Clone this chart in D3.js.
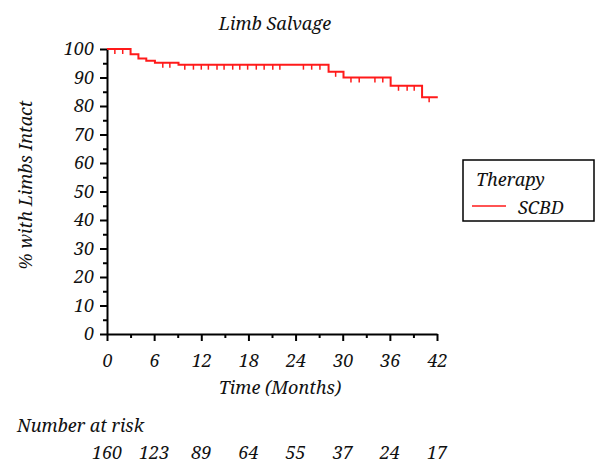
<!DOCTYPE html>
<html>
<head>
<meta charset="utf-8">
<script src="https://cdn.jsdelivr.net/npm/d3@7"></script>
<style>
  body { margin: 0; background: #fff; }
  svg text { font-family: "Noto Serif", "Liberation Serif", serif; font-style: italic; fill: #111; }
  .axis path, .axis line { stroke: #000; stroke-width: 2; }
  .axis text { font-size: 18px; }
</style>
</head>
<body>
<svg width="597" height="464"></svg>
<script>
// step curve: [month, % intact]
var stepTimes  = [0, 3, 4, 5, 6.1, 9.1, 28.2, 30.1, 36.1, 40.1, 42.1];
var stepValues = [100, 98.2, 96.7, 95.9, 95.2, 94.5, 92.0, 90.0, 87.1, 83.1, 83.1];
var censorTimes = [1, 2, 7.1, 8, 9.9, 11, 12, 12.9, 14, 14.9, 16, 16.9, 17.9, 19, 20, 21.1, 22,
                   25, 26.05, 27.1, 29.1, 31.05, 32.1, 34.1, 35.1, 37.1, 38.2, 39.1, 41];
var xTicks = [0, 6, 12, 18, 24, 30, 36, 42];
var atRisk = [160, 123, 89, 64, 55, 37, 24, 17];

var svg = d3.select('svg');

var x = d3.scaleLinear().domain([0, 42]).range([107, 437]);
var y = d3.scaleLinear().domain([0, 100]).range([334, 49]);

// minor ticks
svg.append('g')
  .attr('class', 'axis')
  .attr('transform', 'translate(107,0)')
  .call(d3.axisLeft(y).tickValues(d3.range(5, 100, 10)).tickSize(4).tickFormat(''))
  .select('.domain').remove();
svg.append('g')
  .attr('class', 'axis')
  .attr('transform', 'translate(0,334)')
  .call(d3.axisBottom(x).tickValues(d3.range(3, 42, 6)).tickSize(4).tickFormat(''))
  .select('.domain').remove();

svg.append('g')
  .attr('class', 'axis')
  .attr('transform', 'translate(107,0)')
  .call(d3.axisLeft(y).tickValues(d3.range(0, 101, 10)).tickSize(7).tickSizeOuter(0).tickPadding(6));

svg.append('g')
  .attr('class', 'axis')
  .attr('transform', 'translate(0,334)')
  .call(d3.axisBottom(x).tickValues(xTicks).tickSize(7).tickSizeOuter(0).tickPadding(13));

// survival curve
var pts = stepTimes.map((t, i) => [t, stepValues[i]]);
var line = d3.line()
  .x(d => x(d[0]))
  .y(d => y(d[1]))
  .curve(d3.curveStepAfter);

svg.append('path')
  .datum(pts)
  .attr('d', line)
  .attr('fill', 'none')
  .attr('stroke', '#ff1a1a')
  .attr('stroke-width', 2);

function valueAt(t) {
  var v = stepValues[0];
  stepTimes.forEach((s, i) => { if (s <= t) v = stepValues[i]; });
  return v;
}

svg.selectAll('line.censor')
  .data(censorTimes)
  .enter()
  .append('line')
    .attr('class', 'censor')
    .attr('x1', d => x(d))
    .attr('x2', d => x(d))
    .attr('y1', d => y(valueAt(d)))
    .attr('y2', d => y(valueAt(d)) + 5)
    .attr('stroke', '#ff1a1a')
    .attr('stroke-width', 1.5);

// titles
svg.append('text')
  .attr('x', 275).attr('y', 30)
  .attr('text-anchor', 'middle')
  .style('font-size', '18px')
  .text('Limb Salvage');

svg.append('text')
  .attr('transform', 'translate(32,185) rotate(-90)')
  .attr('text-anchor', 'middle')
  .style('font-size', '18px')
  .text('% with Limbs Intact');

svg.append('text')
  .attr('x', 280).attr('y', 394)
  .attr('text-anchor', 'middle')
  .style('font-size', '18px')
  .text('Time (Months)');

svg.append('text')
  .attr('x', 17).attr('y', 432)
  .style('font-size', '18px')
  .text('Number at risk');

svg.selectAll('text.risk')
  .data(atRisk)
  .enter()
  .append('text')
    .attr('class', 'risk')
    .attr('x', (d, i) => x(xTicks[i]))
    .attr('y', 459)
    .attr('text-anchor', 'middle')
    .style('font-size', '18px')
    .text(d => d);

// legend
var legend = svg.append('g');
legend.append('rect')
  .attr('x', 463).attr('y', 160)
  .attr('width', 131).attr('height', 61)
  .attr('fill', 'none')
  .attr('stroke', '#000')
  .attr('stroke-width', 1.5);
legend.append('text')
  .attr('x', 476).attr('y', 186)
  .style('font-size', '18px')
  .text('Therapy');
legend.append('line')
  .attr('x1', 472).attr('x2', 506)
  .attr('y1', 206).attr('y2', 206)
  .attr('stroke', '#ff1a1a')
  .attr('stroke-width', 1.5);
legend.append('text')
  .attr('x', 518).attr('y', 214)
  .style('font-size', '18px')
  .text('SCBD');
</script>
</body>
</html>
